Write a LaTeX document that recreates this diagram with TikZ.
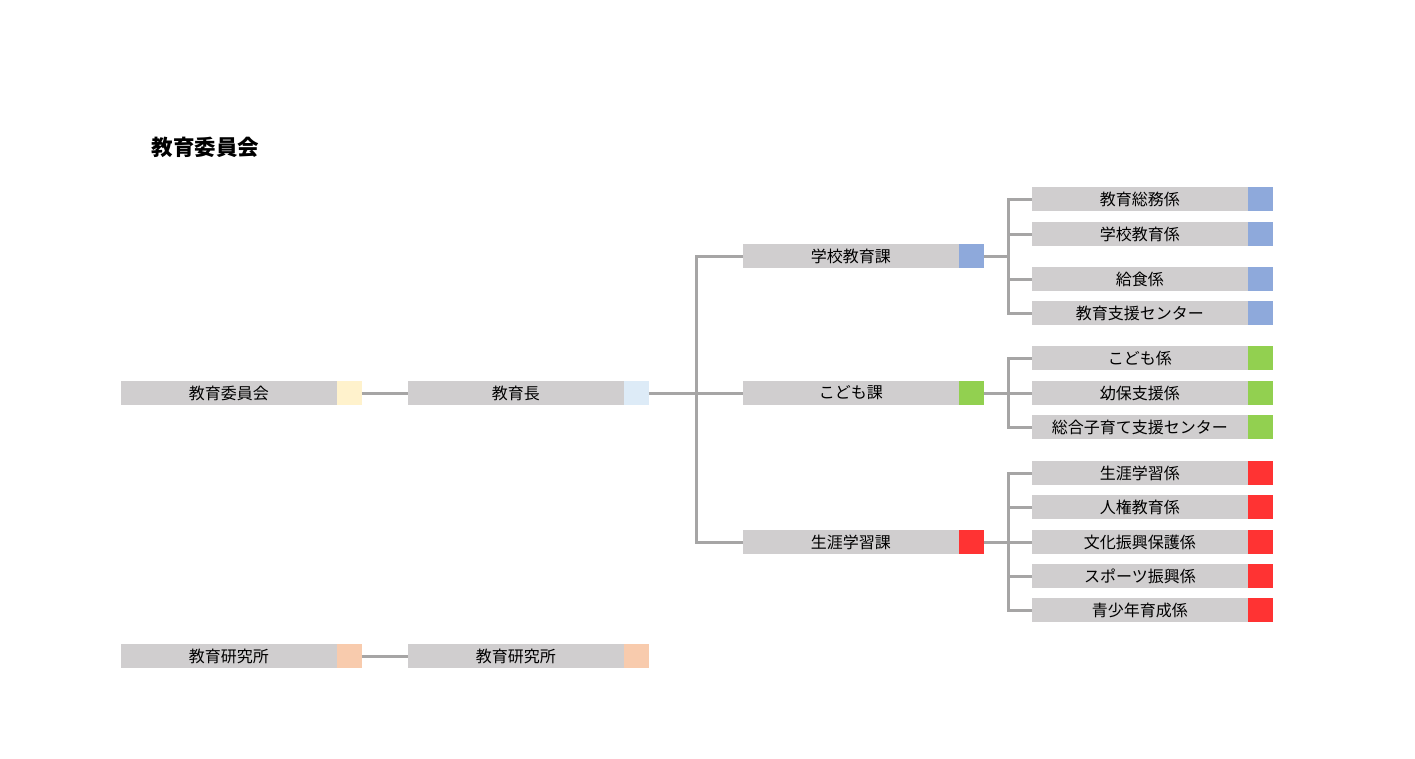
\documentclass[tikz,border=0pt]{standalone}
\usepackage{fontspec}
\usepackage{tikz}
\usetikzlibrary{positioning}
\newfontfamily\jpfont{Noto Sans CJK JP}
\definecolor{BoxGray}{RGB}{208,206,207}
\definecolor{LineGray}{RGB}{166,165,165}
\definecolor{TagYellow}{RGB}{255,242,204}
\definecolor{TagSky}{RGB}{221,235,247}
\definecolor{TagPeach}{RGB}{248,203,173}
\definecolor{TagBlue}{RGB}{142,169,219}
\definecolor{TagGreen}{RGB}{146,208,80}
\definecolor{TagRed}{RGB}{255,51,51}

\begin{document}
\begin{tikzpicture}[
    x=1pt, y=-1pt,
    unit/.style={rectangle, fill=BoxGray, anchor=west, inner sep=0pt,
        minimum width=215.5pt, minimum height=24pt,
        font=\jpfont\fontsize{16}{18}\selectfont},
    tag/.style={rectangle, fill=#1, inner sep=0pt,
        minimum width=25pt, minimum height=24pt},
    conn/.style={draw=LineGray, line width=3pt},
    heading/.style={anchor=west, font=\jpfont\fontsize{21.5}{24}\selectfont\bfseries},
]
\useasboundingbox (0,0) rectangle (1415,758);

\node[heading] (title) at (148,147) {教育委員会};

% top row
\node[unit] (board) at (121,393) {教育委員会};
\node[tag=TagYellow, right=-0.5pt of board] (board-t) {};
\node[unit] (chief) at (408,393) {教育長};
\node[tag=TagSky, right=-0.5pt of chief] (chief-t) {};

% divisions
\node[unit] (ka1) at (743,256) {学校教育課};
\node[tag=TagBlue, right=-0.5pt of ka1] (ka1-t) {};
\node[unit] (ka2) at (743,393) {こども課};
\node[tag=TagGreen, right=-0.5pt of ka2] (ka2-t) {};
\node[unit] (ka3) at (743,542) {生涯学習課};
\node[tag=TagRed, right=-0.5pt of ka3] (ka3-t) {};

% sections
\node[unit] (s11) at (1032,199) {教育総務係};
\node[tag=TagBlue, right=-0.5pt of s11] (s11-t) {};
\node[unit] (s12) at (1032,234) {学校教育係};
\node[tag=TagBlue, right=-0.5pt of s12] (s12-t) {};
\node[unit] (s13) at (1032,279) {給食係};
\node[tag=TagBlue, right=-0.5pt of s13] (s13-t) {};
\node[unit] (s14) at (1032,313) {教育支援センター};
\node[tag=TagBlue, right=-0.5pt of s14] (s14-t) {};

\node[unit] (s21) at (1032,358) {こども係};
\node[tag=TagGreen, right=-0.5pt of s21] (s21-t) {};
\node[unit] (s22) at (1032,393) {幼保支援係};
\node[tag=TagGreen, right=-0.5pt of s22] (s22-t) {};
\node[unit] (s23) at (1032,427) {総合子育て支援センター};
\node[tag=TagGreen, right=-0.5pt of s23] (s23-t) {};

\node[unit] (s31) at (1032,473) {生涯学習係};
\node[tag=TagRed, right=-0.5pt of s31] (s31-t) {};
\node[unit] (s32) at (1032,507) {人権教育係};
\node[tag=TagRed, right=-0.5pt of s32] (s32-t) {};
\node[unit] (s33) at (1032,542) {文化振興保護係};
\node[tag=TagRed, right=-0.5pt of s33] (s33-t) {};
\node[unit] (s34) at (1032,576) {スポーツ振興係};
\node[tag=TagRed, right=-0.5pt of s34] (s34-t) {};
\node[unit] (s35) at (1032,610) {青少年育成係};
\node[tag=TagRed, right=-0.5pt of s35] (s35-t) {};

% research institute
\node[unit] (inst1) at (121,656) {教育研究所};
\node[tag=TagPeach, right=-0.5pt of inst1] (inst1-t) {};
\node[unit] (inst2) at (408,656) {教育研究所};
\node[tag=TagPeach, right=-0.5pt of inst2] (inst2-t) {};

% connectors
\coordinate (trunk) at (696,393);
\coordinate (br1) at (1008,256);
\coordinate (br2) at (1008,393);
\coordinate (br3) at (1008,542);

\draw[conn] (board-t) -- (chief);
\draw[conn] (inst1-t) -- (inst2);
\draw[conn] (chief-t) -- (ka2);
\draw[conn] (ka1.west) -| (trunk) |- (ka3.west);

\draw[conn] (ka1-t.east) -- (br1);
\draw[conn] (s11.west) -| (br1) |- (s14.west);
\draw[conn] (s12.west) -- (br1 |- s12.west);
\draw[conn] (s13.west) -- (br1 |- s13.west);

\draw[conn] (ka2-t.east) -- (br2);
\draw[conn] (s21.west) -| (br2) |- (s23.west);
\draw[conn] (s22.west) -- (br2);

\draw[conn] (ka3-t.east) -- (br3);
\draw[conn] (s31.west) -| (br3) |- (s35.west);
\draw[conn] (s32.west) -- (br3 |- s32.west);
\draw[conn] (s33.west) -- (br3);
\draw[conn] (s34.west) -- (br3 |- s34.west);
\end{tikzpicture}
\end{document}
